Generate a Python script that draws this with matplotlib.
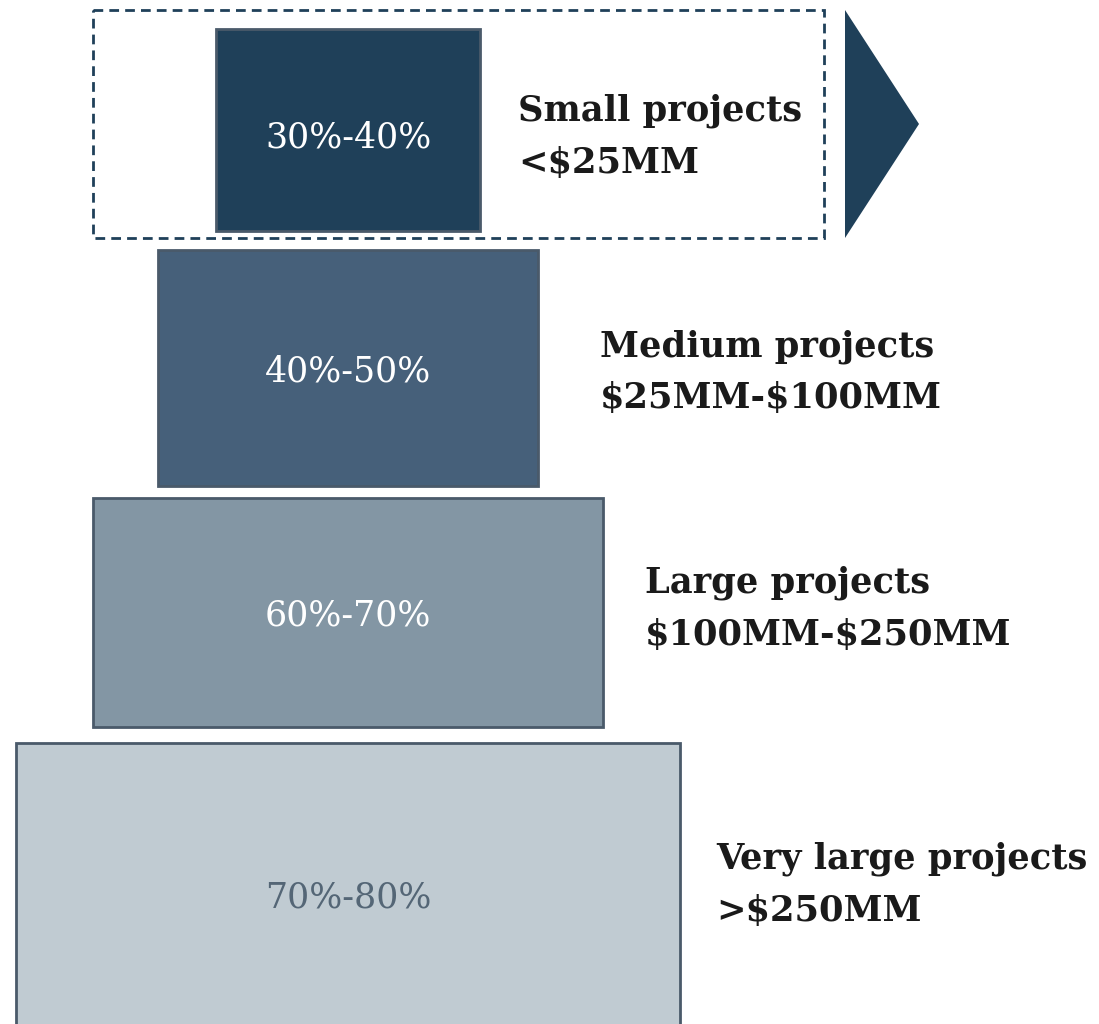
import matplotlib.pyplot as plt
from matplotlib.patches import Rectangle, Polygon

# tiers, top to bottom
tiers = ["Small projects", "Medium projects", "Large projects", "Very large projects"]
sizes = [r"<\$25MM", r"\$25MM-\$100MM", r"\$100MM-\$250MM", r">\$250MM"]
shares = ["30%-40%", "40%-50%", "60%-70%", "70%-80%"]
# relative bar widths
bar_widths = [264, 380, 510, 664]
bar_colors = ["#1F4059", "#46607A", "#8396A4", "#C0CBD2"]
share_colors = ["white", "white", "white", "#546676"]

# layout (pixel space, y down)
center_x = 348
bar_tops = [29, 250, 498, 743]
bar_bottoms = [231, 486, 727, 1040]
share_base = [147, 382, 626, 908]
label_x = [518, 600, 645, 716]
label_base = [121, 356, 593, 869]
line_step = 52

fig = plt.figure(figsize=(10.99, 10.24), dpi=100)
ax = fig.add_axes([0, 0, 1, 1])
ax.set_xlim(0, 1099)
ax.set_ylim(1024, 0)
ax.axis("off")

for i in range(len(tiers)):
    w = bar_widths[i]
    h = bar_bottoms[i] - bar_tops[i]
    ax.barh(bar_tops[i] + h / 2, w, height=h, left=center_x - w / 2,
            color=bar_colors[i], edgecolor="#4A5A6A", linewidth=2, zorder=2)
    ax.text(center_x, share_base[i], shares[i], ha="center", va="baseline",
            fontsize=25, family="DejaVu Serif", color=share_colors[i], zorder=3)
    ax.text(label_x[i], label_base[i], tiers[i], ha="left", va="baseline",
            fontsize=25.4, family="DejaVu Serif", fontweight="bold", color="#1a1a1a")
    ax.text(label_x[i], label_base[i] + line_step, sizes[i], ha="left", va="baseline",
            fontsize=25.4, family="DejaVu Serif", fontweight="bold", color="#1a1a1a")

# dashed box around the small tier and arrow
ax.add_patch(Rectangle((93, 10), 731, 228, fill=False, edgecolor="#1F4059",
                       linestyle=(0, (3.5, 2.2)), linewidth=2, zorder=1))
ax.add_patch(Polygon([(845, 10), (919, 124), (845, 238)], closed=True,
                     facecolor="#1F4059", edgecolor="none"))

fig.savefig("out.png", dpi=100)
